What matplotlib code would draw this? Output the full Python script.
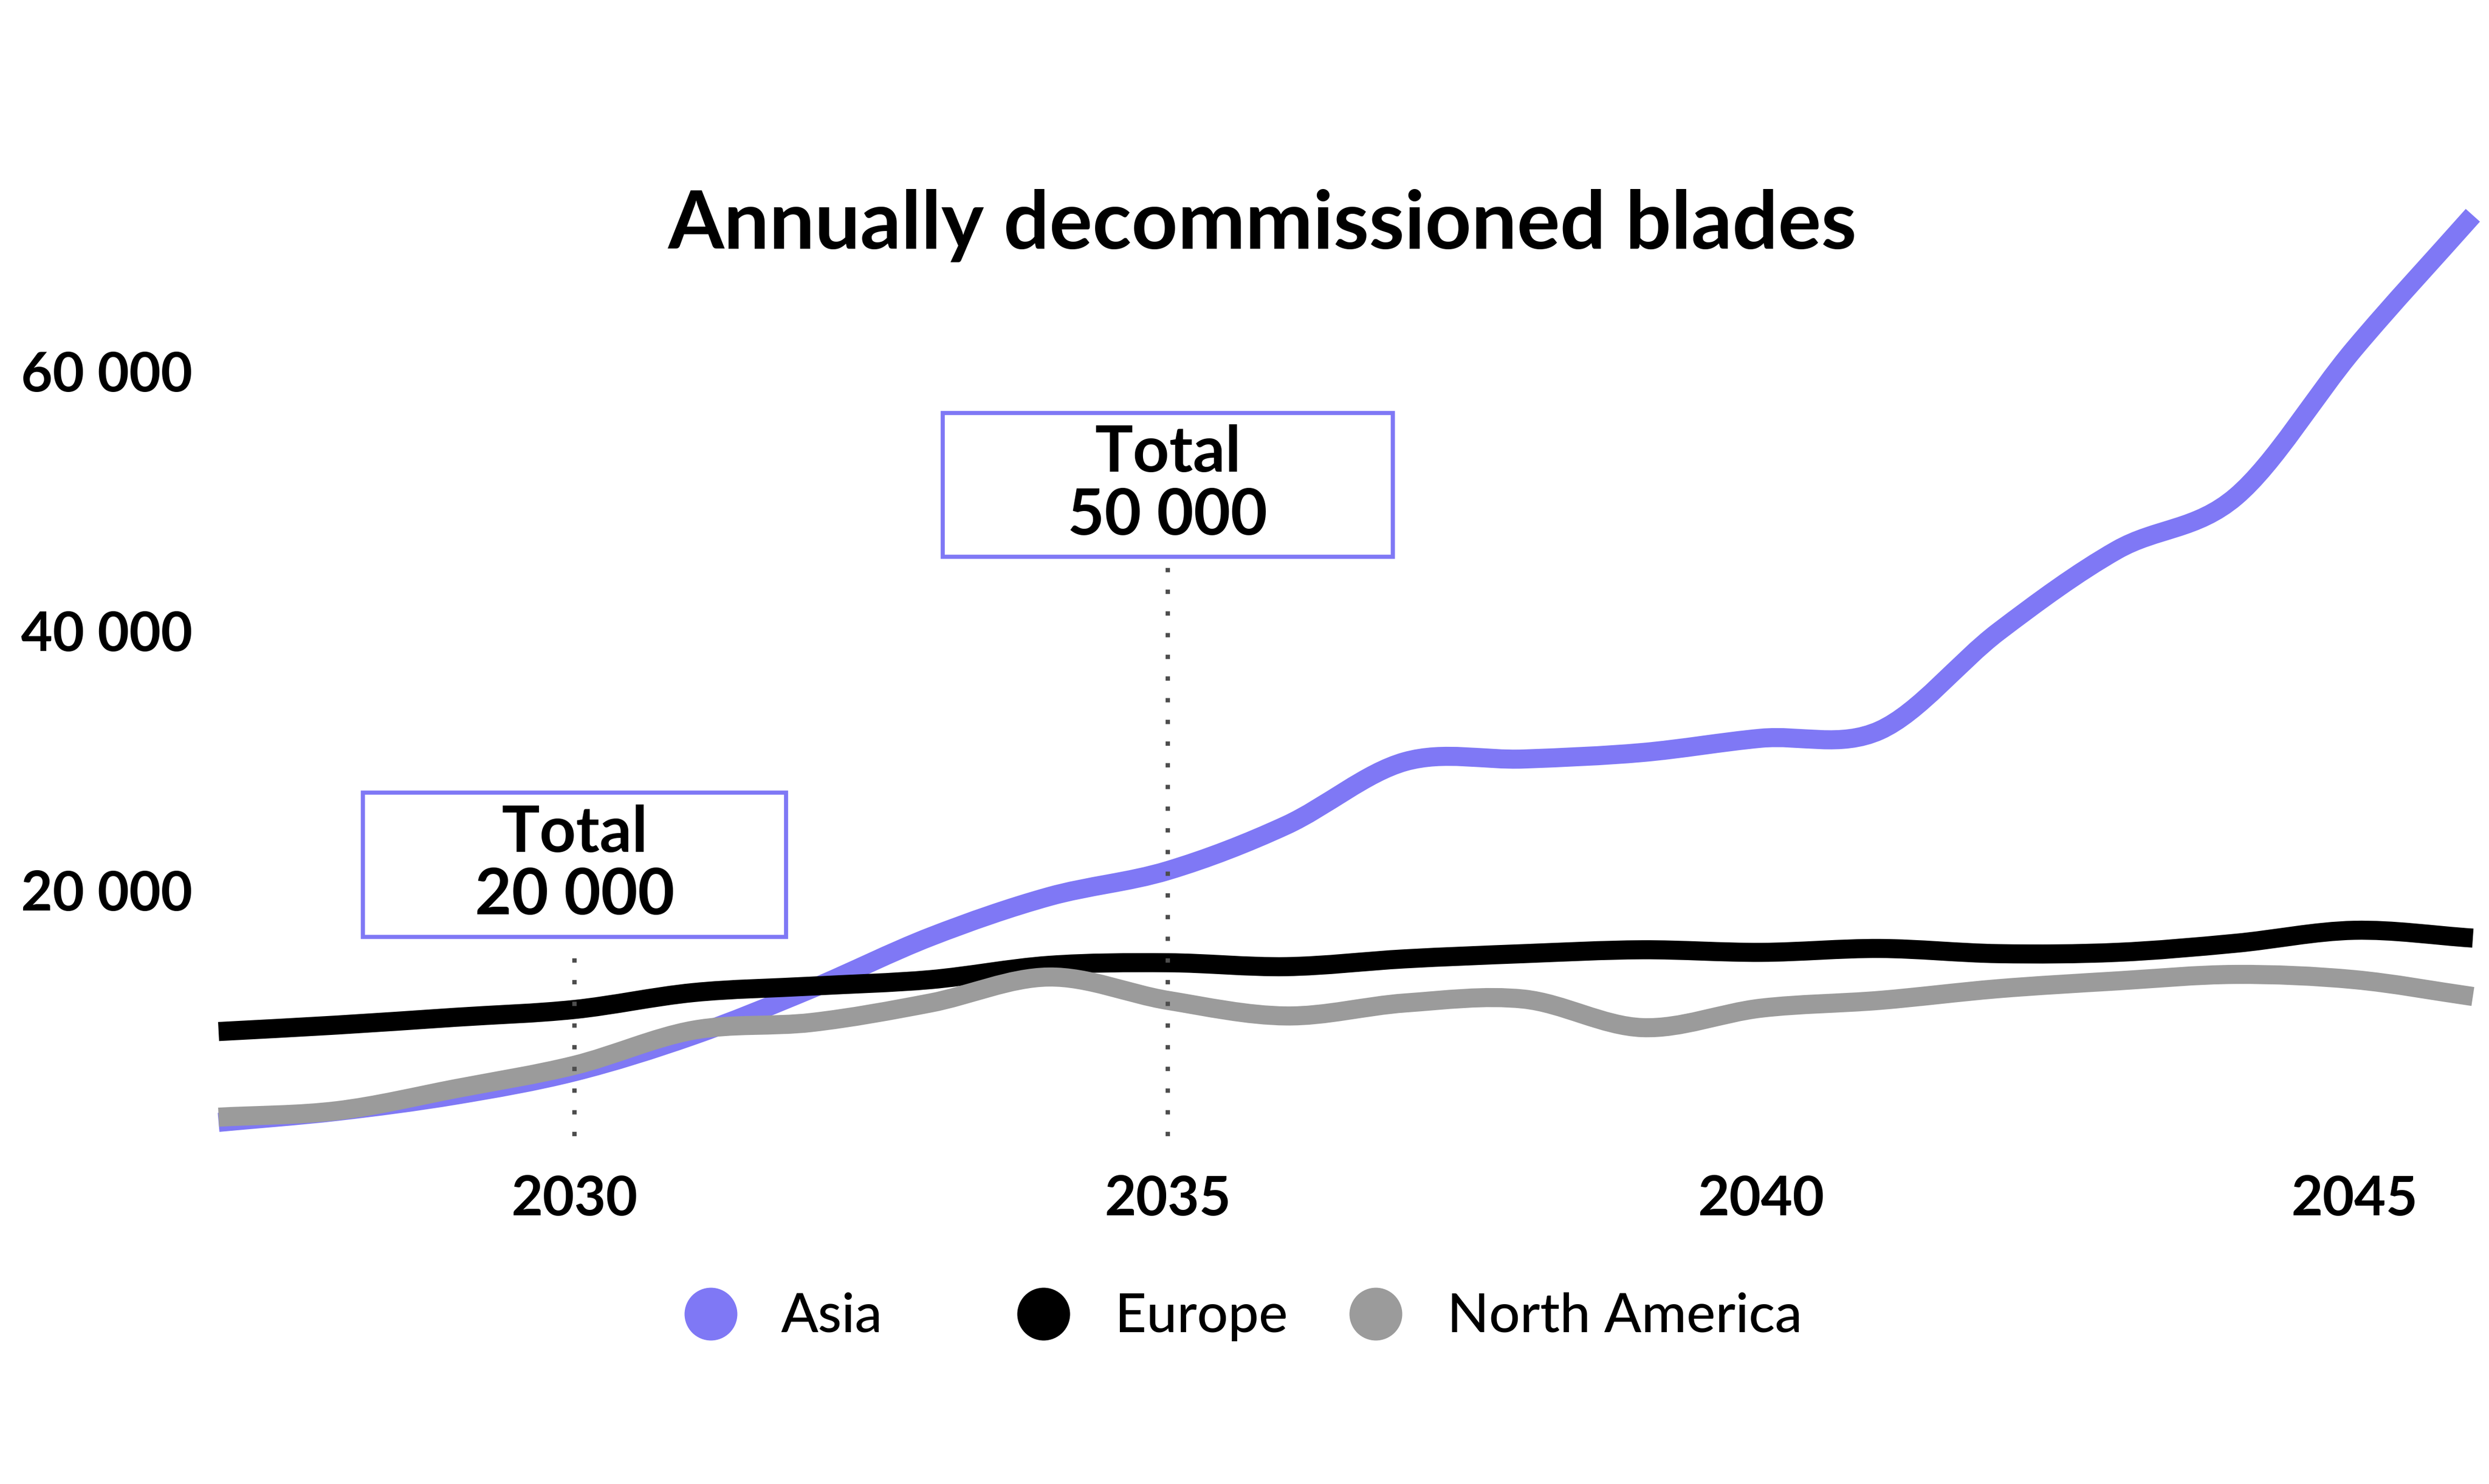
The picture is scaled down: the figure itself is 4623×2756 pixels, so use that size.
import numpy as np
import matplotlib
matplotlib.use("Agg")
import matplotlib.pyplot as plt
from matplotlib.path import Path
from matplotlib.patches import PathPatch, Rectangle
from matplotlib.lines import Line2D

# ---------------- data ----------------
years = list(range(2027, 2047))
asia = [2100, 2950, 4200, 6000, 8800, 12400, 16400, 19500, 21500, 25000,
        29900, 30100, 30600, 31700, 32300, 39900, 46200, 50300, 61700, 72000]
europe = [9100, 9600, 10200, 10800, 12100, 12600, 13100, 14200, 14400, 14100,
          14700, 15100, 15400, 15200, 15500, 15100, 15200, 15900, 16900, 16300]
north_america = [2500, 3000, 4700, 6500, 9200, 9800, 11300, 13300, 11500, 10300,
                 11300, 11600, 9400, 10900, 11500, 12400, 13000, 13500, 13100, 11800]
series_names = ["Asia", "Europe", "North America"]
series_colors = ["#7F78F5", "#000000", "#9B9B9B"]
x_ticks = [2030, 2035, 2040, 2045]
x_tick_labels = ["2030", "2035", "2040", "2045"]
y_ticks = [20000, 40000, 60000]
y_tick_labels = ["20 000", "40 000", "60 000"]
annot_years = [2030, 2035]
annot_labels = ["Total\n20 000", "Total\n50 000"]
title = "Annually decommissioned blades"

FONT = ["Lato", "DejaVu Sans"]
plt.rcParams["font.family"] = FONT

W, H = 4623, 2756
fig = plt.figure(figsize=(W / 100, H / 100), dpi=100)
fig.patch.set_facecolor("white")
ax = fig.add_axes([406 / W, (H - 2135) / H, 4187 / W, (2135 - 327.5) / H])
ax.set_xlim(2027, 2046)
ax.set_ylim(0, 75000)
for s in ax.spines.values():
    s.set_visible(False)
ax.set_facecolor("none")


def smooth_path(x, y):
    x = np.asarray(x, float)
    y = np.asarray(y, float)
    n = len(x)
    m = np.empty(n)
    m[1:-1] = (y[2:] - y[:-2]) / (x[2:] - x[:-2])
    m[0] = (y[1] - y[0]) / (x[1] - x[0])
    m[-1] = (y[-1] - y[-2]) / (x[-1] - x[-2])
    verts = [(x[0], y[0])]
    codes = [Path.MOVETO]
    for i in range(n - 1):
        h = x[i + 1] - x[i]
        verts += [(x[i] + h / 3, y[i] + m[i] * h / 3),
                  (x[i + 1] - h / 3, y[i + 1] - m[i + 1] * h / 3),
                  (x[i + 1], y[i + 1])]
        codes += [Path.CURVE4] * 3
    return Path(verts, codes)


for z, (vals, col) in enumerate(zip([asia, europe, north_america], series_colors)):
    patch = PathPatch(smooth_path(years, vals), facecolor="none", edgecolor=col,
                      lw=25.5, capstyle="butt", joinstyle="round", clip_on=False,
                      zorder=2 + z)
    ax.add_patch(patch)

# annotations: dotted lines and boxes
box_specs = [(3.57, 16390, 27510, 14810), (3.79, 45680, 56760, 45300)]
for yr, lab, (bw, y0, y1, ltop) in zip(annot_years, annot_labels, box_specs):
    ax.plot([yr, yr], [1040, ltop], linestyle=(0, (1, 4)), lw=5.8,
            color="#4d4d4d", dash_capstyle="butt", zorder=6, clip_on=False)
    ax.add_patch(Rectangle((yr - bw / 2, y0), bw, y1 - y0, facecolor="white",
                           edgecolor=series_colors[0], lw=5.5, zorder=7,
                           clip_on=False))
    ax.text(yr, (y0 + y1) / 2, lab, ha="center", va="center", fontsize=85,
            fontweight="bold", linespacing=1.1, zorder=8)

ax.set_xticks(x_ticks, x_tick_labels)
ax.set_yticks(y_ticks, y_tick_labels)
ax.tick_params(axis="both", length=0, labelsize=73)
ax.tick_params(axis="x", pad=34)
ax.tick_params(axis="y", pad=35)
for t in ax.get_xticklabels() + ax.get_yticklabels():
    t.set_fontweight("bold")

fig.text(2345 / W, 1 - 462 / H, title, ha="center", va="baseline",
         fontsize=108, fontweight="bold")

# legend
leg_circle_x = [1320, 1938, 2555]
leg_text_x = [1451, 2071, 2688]
for name, col, cx, tx in zip(series_names, series_colors, leg_circle_x, leg_text_x):
    fig.add_artist(Line2D([cx / W], [1 - 2440 / H], marker="o", markersize=70.6,
                          color=col, markeredgewidth=0, linestyle="none",
                          transform=fig.transFigure))
    fig.text(tx / W, 1 - 2474 / H, name, ha="left", va="baseline",
             fontsize=73, fontweight="medium")

fig.savefig("out.png", dpi=100, facecolor="white")
